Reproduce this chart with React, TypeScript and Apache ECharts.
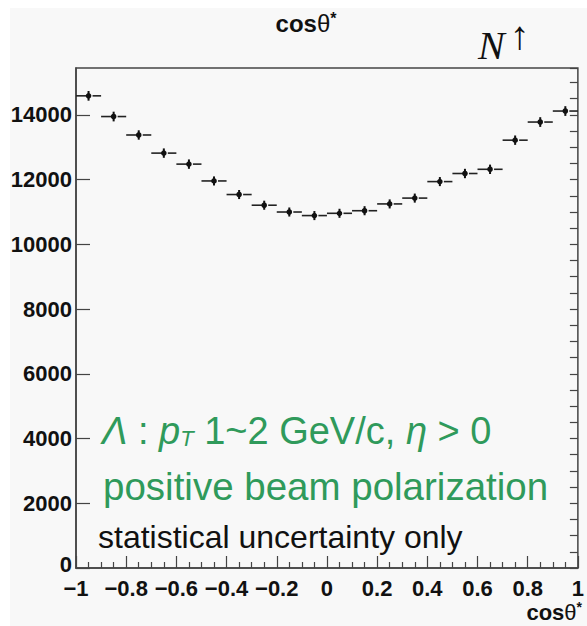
import React, { useEffect, useRef } from 'react';
import * as echarts from 'echarts';

// cos(theta*) bin centres (bin width 0.1)
const binCenters = [-0.95, -0.85, -0.75, -0.65, -0.55, -0.45, -0.35, -0.25, -0.15, -0.05,
  0.05, 0.15, 0.25, 0.35, 0.45, 0.55, 0.65, 0.75, 0.85, 0.95];
const binHalfWidth = 0.05;
// counts per bin
const counts = [14590, 13950, 13380, 12820, 12480, 11960, 11540, 11210, 11000, 10890,
  10960, 11040, 11250, 11430, 11940, 12190, 12320, 13220, 13780, 14120];
// statistical uncertainties
const countErrors = [150, 150, 145, 145, 145, 140, 140, 140, 140, 140,
  140, 140, 140, 140, 140, 145, 145, 145, 150, 150];

const yMin = 0;
const yMax = 15450;
const yMajor = 2000;
const yMinor = 500;
const xMin = -1;
const xMax = 1;
const xMajor = 0.2;

const titleText = ['cos', 'θ', '*'];
const annotLine1 = ['Λ', ' : ', 'p', 'T', ' 1~2 GeV/c, ', 'η', ' > 0'];
const annotLine2 = 'positive beam polarization';
const annotLine3 = 'statistical uncertainty only';

const SANS = "'Liberation Sans', Arial, Helvetica, sans-serif";
const SERIF = "'Liberation Serif', 'DejaVu Serif', serif";
const GREEN = '#2f9a5b';
const AXIS = '#444';

type Seg = { text: string; size: number; weight?: string; style?: string; family?: string; dy?: number; dx?: number; color?: string };

export default function App() {
  const ref = useRef<HTMLDivElement>(null);

  useEffect(() => {
    const chart = echarts.init(ref.current!, null, { renderer: 'svg' });
    const ctx = document.createElement('canvas').getContext('2d')!;
    const fontOf = (s: Seg) => `${s.style || 'normal'} ${s.weight || 'normal'} ${s.size}px ${s.family || SANS}`;
    const measure = (s: Seg) => { ctx.font = fontOf(s); return ctx.measureText(s.text).width; };

    const layout = (segs: Seg[], x: number, baseline: number, align: 'left' | 'center' | 'right', color: string) => {
      const widths = segs.map(measure);
      const total = widths.reduce((a, b) => a + b, 0);
      let cur = align === 'left' ? x : align === 'center' ? x - total / 2 : x - total;
      return segs.map((s, i) => {
        const el = {
          type: 'text',
          x: cur + (s.dx || 0),
          y: baseline + (s.dy || 0) - 0.345 * s.size,
          z: 10,
          style: {
            text: s.text,
            fontSize: s.size,
            fontWeight: s.weight || 'normal',
            fontStyle: s.style || 'normal',
            fontFamily: s.family || SANS,
            fill: s.color || color,
            align: 'left',
            verticalAlign: 'middle',
          },
        };
        cur += widths[i];
        return el;
      });
    };

    const graphics: any[] = [
      ...layout([
        { text: titleText[0], size: 24, weight: 'bold' },
        { text: titleText[1], size: 24 },
        { text: titleText[2], size: 16, weight: 'bold', dy: -8 },
      ], 306, 32, 'center', '#111'),
      ...layout([
        { text: titleText[0], size: 22, weight: 'bold' },
        { text: titleText[1], size: 22 },
        { text: titleText[2], size: 14, weight: 'bold', dy: -8 },
      ], 582, 620, 'right', '#111'),
      ...layout([
        { text: 'N', size: 40, style: 'italic', family: SERIF },
        { text: '↑', size: 40, family: SERIF, dy: -10, dx: 5 },
      ], 478, 59, 'left', '#111'),
      ...layout([
        { text: annotLine1[0], size: 38, style: 'italic' },
        { text: annotLine1[1], size: 38 },
        { text: annotLine1[2], size: 38, style: 'italic' },
        { text: annotLine1[3], size: 22, style: 'italic', dy: 2 },
        { text: annotLine1[4], size: 38 },
        { text: annotLine1[5], size: 38, style: 'italic' },
        { text: annotLine1[6], size: 38 },
      ], 102, 444, 'left', GREEN),
      ...layout([{ text: annotLine2, size: 38.5 }], 103, 500, 'left', GREEN),
      ...layout([{ text: annotLine3, size: 32 }], 98, 548, 'left', '#111'),
    ];

    const fmtX = (v: number) => {
      const r = Number(v.toFixed(1));
      if (r === 0) return '0';
      return r < 0 ? '\u2212' + String(Math.abs(r)) : String(r);
    };

    const option: any = {
      animation: false,
      backgroundColor: 'transparent',
      grid: { left: 76, right: 6, top: 68, bottom: 58, show: true, borderColor: AXIS, borderWidth: 1.5, backgroundColor: 'transparent' },
      xAxis: {
        type: 'value', min: xMin, max: xMax, interval: xMajor,
        axisLine: { show: true, onZero: false, lineStyle: { color: AXIS, width: 1.5 } },
        axisTick: { show: true, inside: true, length: 12, lineStyle: { color: AXIS, width: 1.2 } },
        minorTick: { show: true, splitNumber: 4, length: 6, lineStyle: { color: AXIS, width: 1.2 } },
        axisLabel: { fontSize: 22, fontWeight: 'bold', fontFamily: SANS, color: '#111', margin: 9, formatter: fmtX },
        splitLine: { show: false },
      },
      yAxis: [
        {
          type: 'value', min: yMin, max: yMax, interval: yMajor,
          axisLine: { show: true, onZero: false, lineStyle: { color: AXIS, width: 1.5 } },
          axisTick: { show: true, inside: true, length: 14, lineStyle: { color: AXIS, width: 1.2 } },
          axisLabel: {
            fontSize: 22, fontWeight: 'bold', fontFamily: SANS, color: '#111', margin: 4,
            showMaxLabel: false,
            formatter: (v: number) => {
              if (Math.abs(v % yMajor) > 1e-6) return '';
              return v === 0 ? '{z|0}' : String(v);
            },
            rich: { z: { fontSize: 22, fontWeight: 'bold', fontFamily: SANS, color: '#111', padding: [0, 0, 8, 0] } },
          },
          splitLine: { show: false },
        },
        {
          type: 'value', min: yMin, max: yMax, interval: yMinor,
          axisLine: { show: false, onZero: false },
          axisTick: { show: true, inside: true, length: 8, lineStyle: { color: AXIS, width: 1.2 } },
          axisLabel: { show: false },
          splitLine: { show: false },
        },
      ],
      graphic: graphics,
      series: [
        {
          type: 'custom',
          xAxisIndex: 0,
          yAxisIndex: 0,
          data: binCenters.map((x, i) => [x, counts[i], countErrors[i]]),
          encode: { x: 0, y: 1 },
          renderItem: (_p: any, api: any) => {
            const x = api.value(0), y = api.value(1), e = api.value(2);
            const c = api.coord([x, y]);
            const l = api.coord([x - binHalfWidth, y]);
            const r = api.coord([x + binHalfWidth, y]);
            const t = api.coord([x, y + e]);
            const b = api.coord([x, y - e]);
            const ls = { stroke: '#222', lineWidth: 1.6 };
            return {
              type: 'group',
              children: [
                { type: 'line', shape: { x1: l[0], y1: c[1], x2: c[0], y2: c[1] }, style: ls },
                { type: 'line', shape: { x1: c[0] + 4, y1: c[1], x2: r[0], y2: c[1] }, style: ls },
                { type: 'line', shape: { x1: c[0], y1: t[1], x2: c[0], y2: b[1] }, style: { stroke: '#111', lineWidth: 2 } },
                { type: 'circle', shape: { cx: c[0], cy: c[1], r: 2.8 }, style: { fill: '#111' } },
              ],
            };
          },
        },
      ],
    };
    chart.setOption(option);
    return () => chart.dispose();
  }, []);

  return (
    <div style={{ position: 'fixed', left: 0, top: 0, width: 587, height: 626, background: '#ffffff' }}>
      <div style={{ position: 'absolute', left: 10, top: 8, right: 0, bottom: 0, background: '#f8f8f8' }} />
      <div ref={ref} style={{ position: 'absolute', left: 0, top: 0, width: 587, height: 626 }} />
    </div>
  );
}
